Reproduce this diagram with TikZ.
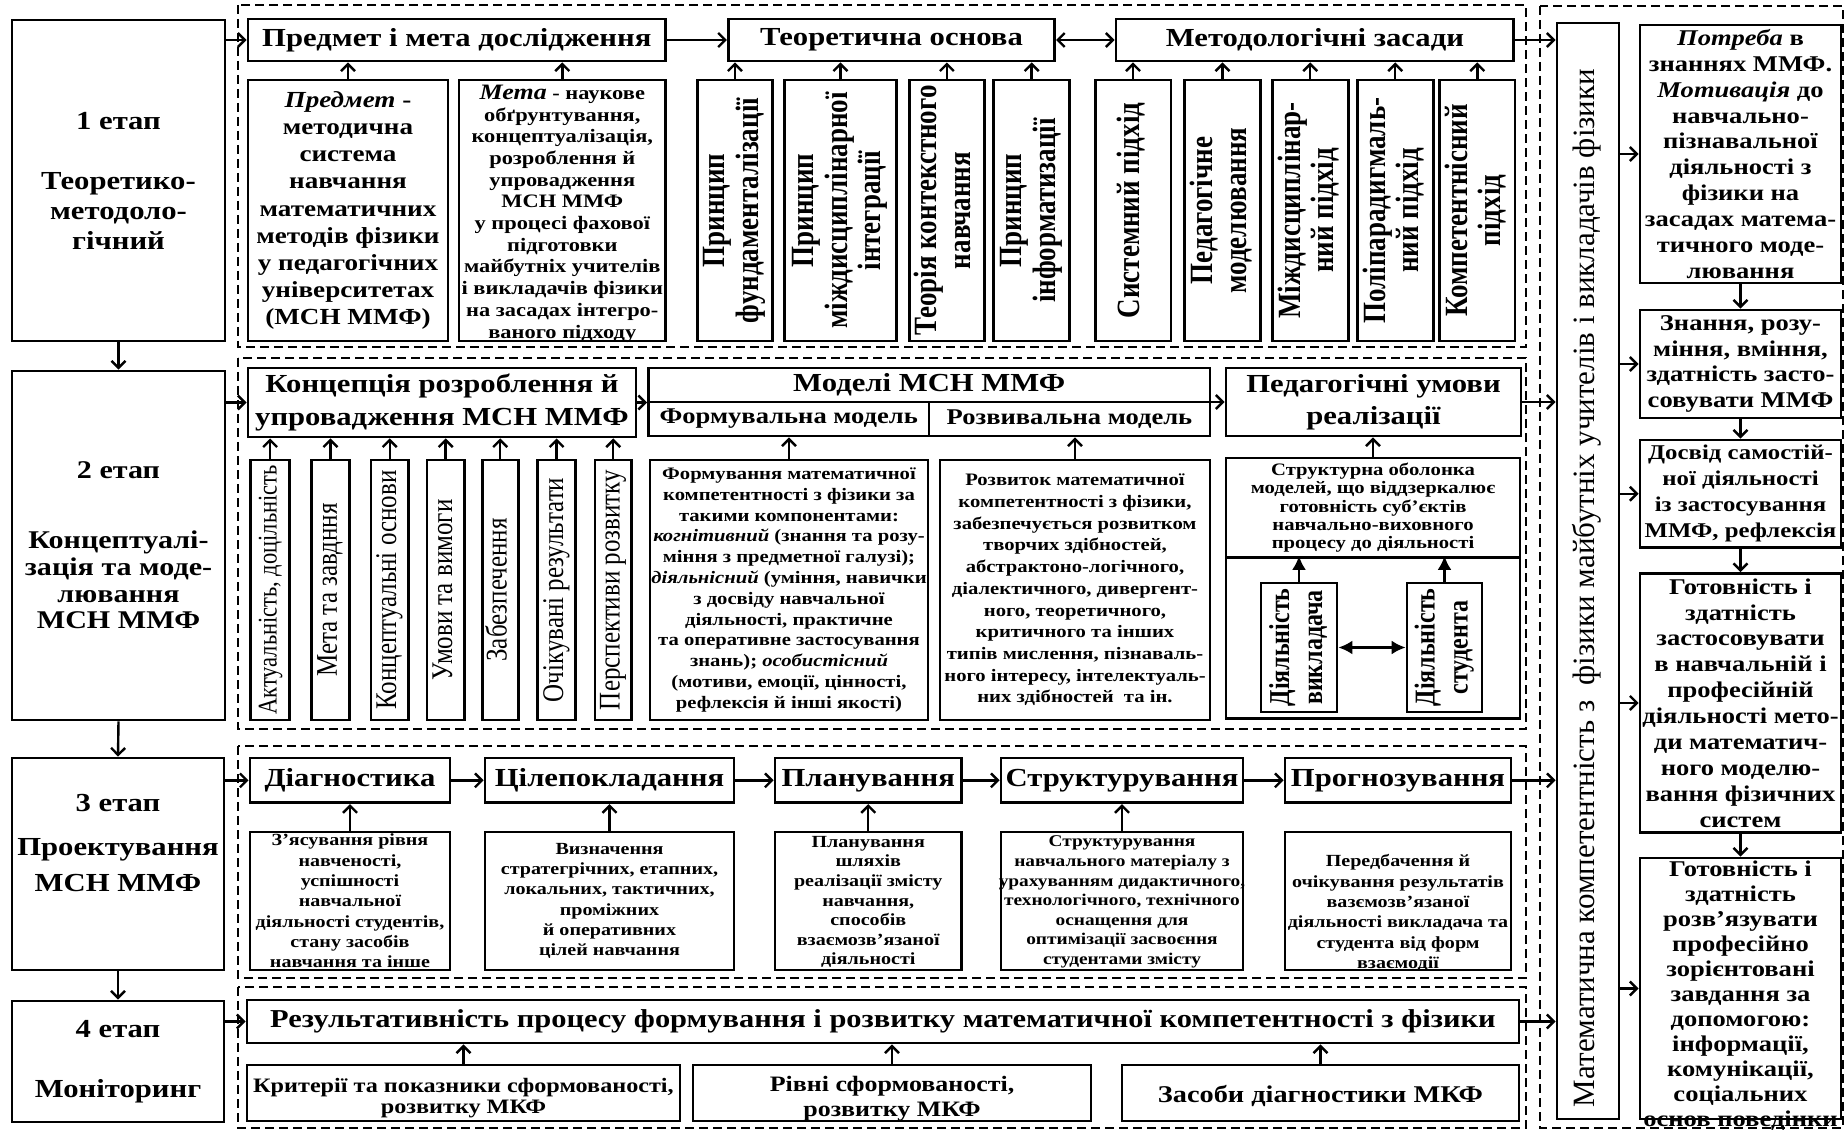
\documentclass[tikz,border=0pt]{standalone}
\usepackage{fontspec}
\setmainfont[FakeStretch=1.18]{Liberation Serif}
\newfontfamily\rfont{Liberation Serif}
\usepackage{graphicx}
\usetikzlibrary{arrows.meta}
\newcommand\myfs[2]{\fontsize{#1}{#2}\selectfont\bfseries}
\newcommand\VT[2][1.2]{\rotatebox{90}{\scalebox{1}[#1]{\begin{tabular}{@{}c@{}}#2\end{tabular}}}}
\newcommand\Bx[7][]{%
  \node[bx,minimum width={(#5)-(#3)},minimum height={(#6)-(#4)}] (#2) at ({((#3)+(#5))/2},{((#4)+(#6))/2}) {};
  \node[txt,#1] (#2-t) at (#2.center) {#7};}
\begin{document}
\begin{tikzpicture}[x=1pt,y=-1pt,
  bx/.style={draw,line width=2.8pt,inner sep=0pt},
  txt/.style={align=center,inner sep=0pt},
  reg/.style={line width=2.2pt,dash pattern=on 9pt off 5pt},
  arr/.style={line width=2.4pt,-{Straight Barb[length=7pt,width=14pt]}},
  darr/.style={line width=2.4pt,{Straight Barb[length=7pt,width=14pt]}-{Straight Barb[length=7pt,width=14pt]}},
  farr/.style={line width=2.4pt,-{Latex[length=14pt,width=14pt]}},
  dfarr/.style={line width=2.4pt,{Latex[length=14pt,width=14pt]}-{Latex[length=14pt,width=14pt]}},
  stg/.style={font=\myfs{26}{30}},
  hd/.style={font=\myfs{26}{31}},
  dsc/.style={font=\myfs{17}{20.3}},
  rbx/.style={font=\myfs{22.5}{25.9}},
  vb/.style={font=\rfont\myfs{27}{28}},
  vr/.style={font=\rfont\fontsize{25}{27}\selectfont}
]
\useasboundingbox (0,0) rectangle (1845,1131);

% dashed regions
\draw[reg] (238,5) rectangle (1526,347);
\draw[reg] (238,358) rectangle (1526,729);
\draw[reg] (238,746) rectangle (1526,978);
\draw[reg] (238,987) rectangle (1526,1128);
\draw[reg] (1540,6) rectangle (1843,1128);

% stage boxes
\Bx[stg]{s1}{12}{20}{225}{341}{1 етап\\[30pt]Теоретико-\\методоло-\\гічний}
\Bx[font=\myfs{25.5}{26.7}]{s2}{12}{371}{225}{720}{2 етап\\[43pt]Концептуалі-\\зація та моде-\\лювання\\МСН ММФ}
\Bx[stg,yshift=21pt]{s3}{12}{758}{224}{970}{3 етап\\[14pt]Проектування\\[6pt]МСН ММФ}
\Bx[stg]{s4}{12}{1001}{224}{1122}{4 етап\\[30pt]Моніторинг}

% stage 1
\Bx[hd]{pm}{248}{19}{665.6}{61}{Предмет і мета дослідження}
\Bx[hd]{tb}{728.3}{19}{1054.6}{61}{Теоретична основа}
\Bx[hd]{mz}{1116}{19}{1513.8}{61}{Методологічні засади}
\Bx[font=\myfs{23}{27.1}]{pr}{248}{80}{448}{341}{\textit{Предмет} -\\методична\\система\\навчання\\математичних\\методів фізики\\у педагогічних\\університетах\\(МСН ММФ)}
\Bx[font=\myfs{19}{21.7},yshift=-3pt]{mt}{459}{80}{665.6}{341}{\textit{\fontsize{22}{21.7}\selectfont Мета} - наукове\\обґрунтування,\\концептуалізація,\\розроблення й\\упровадження\\МСН ММФ\\у процесі фахової\\підготовки\\майбутніх учителів\\і викладачів фізики\\на засадах інтегро-\\ваного підходу}
\Bx[vb]{v1}{697.6}{80}{772.2}{341}{\VT{Принцип\\фундаменталізації}}
\Bx[vb]{v2}{784.2}{80}{896.7}{341}{\VT{Принцип\\міждисциплінарної\\інтеграції}}
\Bx[vb]{v3}{909.3}{80}{984.4}{341}{\VT{Теорія контекстного\\навчання}}
\Bx[vb]{v4}{993.8}{80}{1069.5}{341}{\VT{Принцип\\інформатизації}}
\Bx[vb]{v5}{1095.2}{80}{1170.9}{341}{\VT{Системний підхід}}
\Bx[vb]{v6}{1184.7}{80}{1260.3}{341}{\VT{Педагогічне\\моделювання}}
\Bx[vb]{v7}{1272.4}{80}{1348.1}{341}{\VT{Міждисциплінар-\\ний підхід}}
\Bx[vb]{v8}{1357.4}{80}{1433.1}{341}{\VT{Поліпарадигмаль-\\ний підхід}}
\Bx[vb]{v9}{1439.7}{80}{1514.9}{341}{\VT{Компетентнісний\\підхід}}

% stage 2
\Bx[font=\myfs{26}{33}]{kc}{248}{368}{636}{437}{Концепція розроблення й\\упровадження МСН ММФ}
\Bx[hd]{mh}{648.5}{368}{1210}{402}{Моделі МСН ММФ}
\Bx[font=\myfs{22.5}{26}]{fm}{648.5}{402}{929}{436}{Формувальна модель}
\Bx[font=\myfs{22.5}{26}]{rm}{929}{402}{1210}{436}{Розвивальна модель}
\Bx[font=\myfs{26}{32}]{pu}{1226}{368}{1521}{436}{Педагогічні умови\\реалізації}
\Bx[vr,font=\rfont\fontsize{22.5}{27}\selectfont]{w1}{250.8}{460}{289.4}{720}{\VT{Актуальність, доцільність}}
\Bx[vr]{w2}{311.8}{460}{349.1}{720}{\VT{Мета та завдння}}
\Bx[vr]{w3}{371}{460}{408.4}{720}{\VT{Концептуальні основи}}
\Bx[vr]{w4}{427}{460}{464.3}{720}{\VT{Умови та вимоги}}
\Bx[vr]{w5}{482.2}{460}{518.2}{720}{\VT{Забезпечення}}
\Bx[vr]{w6}{537.7}{460}{575.5}{720}{\VT{Очікувані результати}}
\Bx[vr]{w7}{595}{460}{631.4}{720}{\VT{Перспективи розвитку}}
\Bx[font=\myfs{17.5}{20.8}]{fd}{650}{460}{928}{720}{Формування математичної\\компетентності з фізики за\\такими компонентами:\\\textit{когнітивний} (знання та розу-\\міння з предметної галузі);\\\textit{діяльнісний} (уміння, навички\\з досвіду навчальної\\діяльності, практичне\\та оперативне застосування\\знань); \textit{особистісний}\\(мотиви, емоції, цінності,\\рефлексія й інші якості)}
\Bx[font=\myfs{17.5}{21.7}]{rd}{940}{460}{1210}{720}{Розвиток математичної\\компетентності з фізики,\\забезпечується розвитком\\творчих здібностей,\\абстрактоно-логічного,\\діалектичного, дивергент-\\ного, теоретичного,\\критичного та інших\\типів мислення, пізнаваль-\\ного інтересу, інтелектуаль-\\них здібностей\ \ та ін.}
\Bx[font=\myfs{17.5}{18.3}]{st}{1226}{458}{1520}{557.3}{Структурна оболонка\\моделей, що віддзеркалює\\готовність суб’єктів\\навчально-виховного\\процесу до діяльності}
\Bx{sb}{1226}{557.3}{1520}{718.3}{}
\Bx[font=\rfont\myfs{24}{27.5}]{dv}{1261}{583}{1337}{712}{\VT{Діяльність\\викладача}}
\Bx[font=\rfont\myfs{24}{27.5}]{ds}{1407}{583}{1482}{712}{\VT{Діяльність\\студента}}

% stage 3
\Bx[hd]{dg}{250}{758}{450}{802.7}{Діагностика}
\Bx[hd]{cp}{485}{758}{734}{802.7}{Цілепокладання}
\Bx[hd]{pl}{775}{758}{961.5}{802.7}{Планування}
\Bx[hd]{su}{1001}{758}{1243}{802.7}{Структурування}
\Bx[hd]{pg}{1285}{758}{1511}{802.7}{Прогнозування}
\Bx[dsc]{d1}{250}{832}{450}{970}{З’ясування рівня\\навченості,\\успішності\\навчальної\\діяльності студентів,\\стану засобів\\навчання та інше}
\Bx[dsc]{d2}{485}{832}{734}{970}{Визначення\\стратегрічних, етапних,\\локальних, тактичних,\\проміжних\\й оперативних\\цілей навчання}
\Bx[font=\myfs{17}{19.6},yshift=-1pt]{d3}{775}{832}{961.5}{970}{Планування\\шляхів\\реалізації змісту\\навчання,\\способів\\взаємозв’язаної\\діяльності}
\Bx[font=\myfs{16.4}{19.6},yshift=-1pt]{d4}{1001}{832}{1243}{970}{Структурування\\навчального матеріалу з\\урахуванням дидактичного,\\технологічного, технічного\\оснащення для\\оптимізації засвоєння\\студентами змісту}
\Bx[dsc,yshift=-12pt]{d5}{1285}{832}{1511}{970}{Передбачення й\\очікування результатів\\вазємозв’язаної\\діяльності викладача та\\студента від форм\\взаємодії}

% stage 4
\Bx[font=\myfs{25.8}{30}]{rz}{247}{1000}{1519}{1043}{Результативність процесу формування і розвитку математичної компетентності з фізики}
\Bx[font=\myfs{20.5}{21},yshift=-5pt]{c1}{247}{1065}{680}{1121}{Критерії та показники сформованості,\\розвитку МКФ}
\Bx[font=\myfs{22}{25},yshift=-6pt]{c2}{693}{1065}{1091}{1121}{Рівні сформованості,\\розвитку МКФ}
\Bx[font=\myfs{24}{28},yshift=-3pt]{c3}{1122}{1065}{1519}{1121}{Засоби діагностики МКФ}

% right column
\Bx[font=\rfont\fontsize{31}{34}\selectfont,yshift=-17pt]{mk}{1557}{23}{1619}{1119}{\VT[1]{Математична компетентність з \ фізики майбутніх учителів і викладачів фізики}}
\Bx[rbx]{r1}{1640}{25}{1841}{283}{\textit{Потреба} в\\знаннях ММФ.\\\textit{Мотивація} до\\навчально-\\пізнавальної\\діяльності з\\фізики на\\засадах матема-\\тичного моде-\\лювання}
\Bx[rbx]{r2}{1640}{310}{1841}{418}{Знання, розу-\\міння, вміння,\\здатність засто-\\совувати ММФ}
\Bx[font=\myfs{21}{25.9}]{r3}{1640}{440}{1841}{547.5}{Досвід самостій-\\ної діяльності\\із застосування\\ММФ, рефлексія}
\Bx[rbx]{r4}{1640}{573.5}{1841}{832.4}{Готовність і\\здатність\\застосовувати\\в навчальній і\\професійній\\діяльності мето-\\ди математич-\\ного моделю-\\вання фізичних\\систем}
\Bx[font=\myfs{22.5}{25},yshift=-7pt]{r5}{1640}{858}{1841}{1119}{Готовність і\\здатність\\розв’язувати\\професійно\\зорієнтовані\\завдання за\\допомогою:\\інформації,\\комунікації,\\соціальних\\основ поведінки}

% connectors: stages
\draw[arr] (s1.south) -- (s2.north);
\draw[arr] (s2.south) -- (s3.north);
\draw[arr] (s3.south) -- (s4.north);

% stage 1 connectors
\draw[arr] (s1.east |- pm.west) -- (pm.west);
\draw[arr] (pm.east) -- (tb.west);
\draw[darr] (tb.east) -- (mz.west);
\draw[arr] (mz.east) -- (mz.east -| mk.west);
\draw[arr] (pr.north) -- (pr.north |- pm.south);
\draw[arr] (mt.north) -- (mt.north |- pm.south);
\foreach \n in {v1,v2,v3,v4}{\draw[arr] (\n.north) -- (\n.north |- tb.south);}
\foreach \n in {v5,v6,v7,v8,v9}{\draw[arr] (\n.north) -- (\n.north |- mz.south);}

% stage 2 connectors
\draw[arr] (s2.east |- kc.west) -- (kc.west);
\draw[arr] (kc.east) -- (kc.east -| mh.west);
\draw[arr] (pu.west -| rm.east) -- (pu.west);
\draw[arr] (pu.east) -- (pu.east -| mk.west);
\foreach \n in {w1,w2,w3,w4,w5,w6,w7}{\draw[arr] (\n.north) -- (\n.north |- kc.south);}
\draw[arr] (fd.north) -- (fd.north |- fm.south);
\draw[arr] (rd.north) -- (rd.north |- rm.south);
\draw[arr] (st.north) -- (st.north |- pu.south);
\draw[farr] (dv.north) -- (dv.north |- sb.north);
\draw[farr] (ds.north) -- (ds.north |- sb.north);
\draw[dfarr] (dv.east) -- (ds.west);

% stage 3 connectors
\draw[arr] (s3.east |- dg.west) -- (dg.west);
\draw[arr] (dg.east) -- (cp.west);
\draw[arr] (cp.east) -- (pl.west);
\draw[arr] (pl.east) -- (su.west);
\draw[arr] (su.east) -- (pg.west);
\draw[arr] (pg.east) -- (pg.east -| mk.west);
\draw[arr] (d1.north) -- (d1.north |- dg.south);
\draw[arr] (d2.north) -- (d2.north |- cp.south);
\draw[arr] (d3.north) -- (d3.north |- pl.south);
\draw[arr] (d4.north) -- (d4.north |- su.south);

% stage 4 connectors
\draw[arr] (s4.east |- rz.west) -- (rz.west);
\draw[arr] (rz.east) -- (rz.east -| mk.west);
\foreach \n in {c1,c2,c3}{\draw[arr] (\n.north) -- (\n.north |- rz.south);}

% right column connectors
\foreach \n in {r1,r2,r3,r4,r5}{\draw[arr] (mk.east |- \n.west) -- (\n.west);}
\draw[arr] (r1.south) -- (r2.north);
\draw[arr] (r2.south) -- (r3.north);
\draw[arr] (r3.south) -- (r4.north);
\draw[arr] (r4.south) -- (r5.north);
\end{tikzpicture}
\end{document}
